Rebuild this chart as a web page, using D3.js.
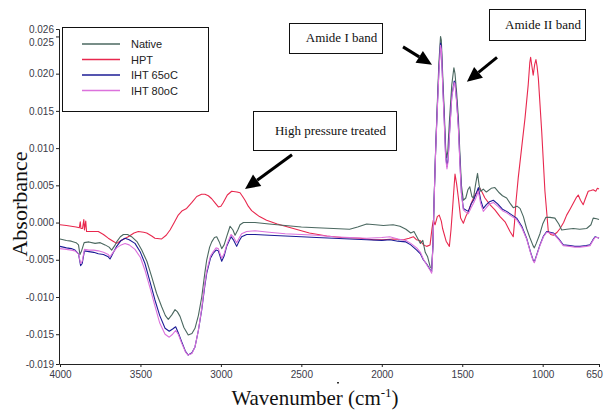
<!DOCTYPE html>
<html>
<head>
<meta charset="utf-8">
<script src="https://cdn.jsdelivr.net/npm/d3@7"></script>
<style>
  body { margin: 0; background: #fff; }
  svg { display: block; }
  .tick text { font-family: "Liberation Sans", Arial, sans-serif; font-size: 10px; fill: #3a3a48; }
</style>
</head>
<body>
<svg id="chart" width="606" height="410"></svg>
<script>
// spectra: [wavenumber, absorbance]
const nativeData = [[4000,-0.0022],[3960,-0.0024],[3930,-0.0025],[3900,-0.0027],[3885,-0.0030],[3876,-0.0043],[3866,-0.0038],[3850,-0.0027],[3820,-0.0026],[3782,-0.0028],[3750,-0.0027],[3720,-0.0030],[3695,-0.0033],[3679,-0.0037],[3660,-0.0031],[3648,-0.0026],[3625,-0.0019],[3606,-0.0016],[3580,-0.0016],[3555,-0.0019],[3520,-0.0026],[3492,-0.0037],[3460,-0.0052],[3430,-0.0073],[3400,-0.0095],[3368,-0.0113],[3345,-0.0125],[3327,-0.0130],[3305,-0.0124],[3285,-0.0117],[3270,-0.0120],[3254,-0.0126],[3230,-0.0141],[3203,-0.0151],[3180,-0.0149],[3161,-0.0142],[3140,-0.0125],[3119,-0.0100],[3100,-0.0068],[3088,-0.0050],[3070,-0.0033],[3057,-0.0026],[3040,-0.0020],[3026,-0.0019],[3010,-0.0026],[2995,-0.0035],[2980,-0.0030],[2964,-0.0019],[2943,-0.0005],[2925,-0.0010],[2912,-0.0017],[2895,-0.0010],[2881,-0.0003],[2860,0.0000],[2840,0.0000],[2788,0.0000],[2700,-0.0002],[2600,-0.0004],[2500,-0.0006],[2405,-0.0007],[2300,-0.0008],[2200,-0.0009],[2150,-0.0006],[2094,-0.0002],[2040,-0.0003],[1990,-0.0004],[1930,-0.0003],[1887,-0.0005],[1850,-0.0009],[1820,-0.0014],[1800,-0.0012],[1780,-0.0020],[1760,-0.0028],[1745,-0.0024],[1730,-0.0040],[1715,-0.0046],[1700,-0.0059],[1690,-0.0062],[1682,-0.0030],[1675,0.0030],[1665,0.0100],[1655,0.0160],[1645,0.0215],[1635,0.0250],[1630,0.0245],[1620,0.0190],[1612,0.0150],[1603,0.0100],[1597,0.0087],[1590,0.0095],[1580,0.0135],[1565,0.0185],[1552,0.0208],[1545,0.0200],[1535,0.0175],[1524,0.0140],[1515,0.0095],[1505,0.0050],[1493,0.0030],[1478,0.0033],[1465,0.0044],[1453,0.0048],[1440,0.0035],[1430,0.0033],[1418,0.0050],[1405,0.0066],[1395,0.0050],[1385,0.0042],[1369,0.0045],[1350,0.0041],[1320,0.0046],[1297,0.0047],[1270,0.0040],[1250,0.0036],[1224,0.0033],[1200,0.0025],[1183,0.0020],[1160,0.0022],[1141,0.0019],[1120,0.0008],[1100,-0.0008],[1080,-0.0020],[1060,-0.0031],[1052,-0.0034],[1040,-0.0028],[1017,-0.0015],[1000,-0.0002],[980,0.0007],[955,0.0007],[924,0.0006],[900,-0.0002],[882,-0.0010],[850,-0.0009],[810,-0.0008],[770,-0.0009],[727,-0.0008],[700,-0.0003],[686,0.0006],[665,0.0005],[650,0.0004]];

const hptData = [[4000,-0.0003],[3960,-0.0004],[3930,-0.0005],[3900,-0.0006],[3880,-0.0007],[3874,0.0001],[3870,-0.0008],[3860,-0.0008],[3852,0.0004],[3848,-0.0010],[3840,0.0002],[3835,-0.0012],[3800,-0.0012],[3762,-0.0012],[3730,-0.0016],[3700,-0.0021],[3670,-0.0025],[3648,-0.0028],[3620,-0.0024],[3576,-0.0019],[3540,-0.0014],[3513,-0.0012],[3480,-0.0013],[3461,-0.0014],[3430,-0.0018],[3410,-0.0021],[3368,-0.0022],[3340,-0.0017],[3316,-0.0010],[3290,0.0000],[3265,0.0010],[3240,0.0016],[3213,0.0019],[3180,0.0027],[3150,0.0035],[3120,0.0038],[3099,0.0038],[3078,0.0036],[3057,0.0032],[3035,0.0026],[3016,0.0021],[3000,0.0022],[2985,0.0027],[2960,0.0037],[2933,0.0042],[2900,0.0041],[2881,0.0040],[2865,0.0035],[2850,0.0030],[2830,0.0022],[2809,0.0016],[2760,0.0008],[2716,0.0003],[2650,-0.0002],[2550,-0.0008],[2450,-0.0014],[2342,-0.0018],[2250,-0.0020],[2135,-0.0021],[2050,-0.0023],[1991,-0.0023],[1930,-0.0022],[1866,-0.0023],[1830,-0.0021],[1804,-0.0019],[1785,-0.0023],[1763,-0.0024],[1740,-0.0030],[1721,-0.0032],[1700,-0.0030],[1688,-0.0008],[1680,0.0003],[1669,-0.0003],[1655,0.0008],[1643,0.0010],[1630,0.0002],[1622,-0.0008],[1600,-0.0025],[1580,-0.0032],[1570,-0.0010],[1560,0.0019],[1550,0.0050],[1545,0.0065],[1535,0.0052],[1524,0.0033],[1510,0.0006],[1493,-0.0001],[1478,0.0008],[1462,0.0015],[1440,0.0028],[1421,0.0037],[1400,0.0044],[1390,0.0046],[1375,0.0040],[1359,0.0033],[1328,0.0024],[1297,0.0017],[1265,0.0008],[1234,0.0001],[1203,-0.0012],[1183,-0.0019],[1175,0.0000],[1166,0.0028],[1152,0.0060],[1131,0.0100],[1110,0.0140],[1090,0.0185],[1080,0.0215],[1075,0.0222],[1067,0.0210],[1059,0.0198],[1050,0.0212],[1042,0.0219],[1035,0.0210],[1027,0.0194],[1006,0.0122],[986,0.0042],[965,-0.0012],[950,-0.0016],[934,-0.0017],[910,-0.0013],[892,-0.0008],[870,0.0000],[851,0.0010],[830,0.0018],[810,0.0026],[790,0.0034],[779,0.0037],[765,0.0030],[748,0.0024],[735,0.0032],[717,0.0042],[700,0.0043],[686,0.0044],[670,0.0042],[660,0.0046],[650,0.0045]];

const iht65Data = [[4000,-0.0032],[3960,-0.0034],[3930,-0.0035],[3907,-0.0037],[3885,-0.0042],[3872,-0.0058],[3862,-0.0055],[3848,-0.0038],[3820,-0.0039],[3790,-0.0040],[3762,-0.0042],[3730,-0.0043],[3700,-0.0046],[3689,-0.0049],[3670,-0.0041],[3648,-0.0032],[3620,-0.0024],[3596,-0.0021],[3570,-0.0023],[3534,-0.0028],[3500,-0.0040],[3472,-0.0055],[3440,-0.0080],[3410,-0.0104],[3380,-0.0125],[3347,-0.0142],[3321,-0.0146],[3300,-0.0143],[3281,-0.0140],[3265,-0.0148],[3244,-0.0160],[3220,-0.0173],[3203,-0.0178],[3180,-0.0175],[3161,-0.0167],[3140,-0.0145],[3119,-0.0117],[3100,-0.0085],[3088,-0.0068],[3065,-0.0048],[3047,-0.0041],[3030,-0.0037],[3016,-0.0038],[2995,-0.0052],[2980,-0.0045],[2964,-0.0032],[2937,-0.0019],[2920,-0.0024],[2902,-0.0032],[2885,-0.0024],[2871,-0.0019],[2840,-0.0016],[2788,-0.0016],[2700,-0.0017],[2600,-0.0018],[2500,-0.0019],[2405,-0.0020],[2300,-0.0021],[2200,-0.0022],[2094,-0.0023],[2000,-0.0024],[1950,-0.0023],[1900,-0.0025],[1850,-0.0026],[1820,-0.0030],[1783,-0.0037],[1760,-0.0042],[1742,-0.0050],[1720,-0.0056],[1700,-0.0063],[1690,-0.0066],[1682,-0.0030],[1675,0.0030],[1665,0.0100],[1655,0.0155],[1645,0.0205],[1635,0.0241],[1630,0.0236],[1620,0.0180],[1612,0.0140],[1603,0.0090],[1595,0.0075],[1588,0.0085],[1578,0.0125],[1565,0.0170],[1550,0.0190],[1545,0.0188],[1535,0.0165],[1524,0.0130],[1515,0.0085],[1505,0.0040],[1493,0.0019],[1478,0.0017],[1462,0.0015],[1445,0.0025],[1430,0.0030],[1415,0.0038],[1400,0.0047],[1385,0.0030],[1369,0.0019],[1350,0.0024],[1330,0.0028],[1307,0.0030],[1280,0.0025],[1250,0.0018],[1224,0.0015],[1190,0.0010],[1162,0.0006],[1130,-0.0005],[1100,-0.0021],[1075,-0.0040],[1060,-0.0050],[1052,-0.0053],[1040,-0.0045],[1017,-0.0030],[995,-0.0018],[975,-0.0012],[955,-0.0013],[934,-0.0014],[900,-0.0022],[872,-0.0030],[830,-0.0031],[800,-0.0032],[768,-0.0032],[730,-0.0031],[706,-0.0030],[690,-0.0024],[675,-0.0019],[660,-0.0020],[650,-0.0021]];

const iht80Data = [[4000,-0.0035],[3960,-0.0036],[3930,-0.0037],[3907,-0.0038],[3885,-0.0042],[3872,-0.0055],[3862,-0.0052],[3848,-0.0036],[3820,-0.0037],[3790,-0.0037],[3762,-0.0038],[3730,-0.0040],[3700,-0.0043],[3689,-0.0046],[3670,-0.0040],[3648,-0.0034],[3620,-0.0030],[3596,-0.0028],[3570,-0.0030],[3534,-0.0036],[3500,-0.0047],[3472,-0.0064],[3440,-0.0088],[3410,-0.0112],[3380,-0.0135],[3347,-0.0150],[3321,-0.0154],[3300,-0.0150],[3281,-0.0145],[3265,-0.0150],[3244,-0.0162],[3220,-0.0174],[3203,-0.0178],[3180,-0.0176],[3161,-0.0167],[3140,-0.0145],[3119,-0.0115],[3100,-0.0082],[3088,-0.0065],[3065,-0.0045],[3047,-0.0039],[3030,-0.0034],[3016,-0.0035],[2995,-0.0048],[2980,-0.0042],[2964,-0.0030],[2937,-0.0016],[2920,-0.0020],[2902,-0.0027],[2885,-0.0020],[2871,-0.0015],[2840,-0.0012],[2788,-0.0011],[2700,-0.0013],[2600,-0.0015],[2500,-0.0016],[2405,-0.0017],[2300,-0.0019],[2200,-0.0020],[2094,-0.0021],[2000,-0.0020],[1950,-0.0019],[1900,-0.0022],[1850,-0.0024],[1820,-0.0028],[1783,-0.0034],[1760,-0.0040],[1742,-0.0049],[1720,-0.0057],[1700,-0.0064],[1690,-0.0068],[1682,-0.0032],[1675,0.0028],[1665,0.0098],[1655,0.0152],[1645,0.0202],[1635,0.0238],[1630,0.0233],[1620,0.0176],[1612,0.0136],[1603,0.0086],[1595,0.0072],[1588,0.0082],[1578,0.0122],[1565,0.0168],[1550,0.0188],[1545,0.0186],[1535,0.0162],[1524,0.0127],[1515,0.0082],[1505,0.0038],[1493,0.0017],[1478,0.0014],[1462,0.0012],[1445,0.0020],[1430,0.0026],[1415,0.0033],[1400,0.0042],[1385,0.0025],[1369,0.0015],[1350,0.0020],[1330,0.0025],[1307,0.0027],[1280,0.0022],[1250,0.0016],[1224,0.0013],[1190,0.0008],[1162,0.0004],[1130,-0.0007],[1100,-0.0022],[1075,-0.0041],[1060,-0.0051],[1052,-0.0054],[1040,-0.0046],[1017,-0.0031],[995,-0.0019],[975,-0.0013],[955,-0.0014],[934,-0.0015],[900,-0.0023],[872,-0.0031],[830,-0.0032],[800,-0.0033],[768,-0.0033],[730,-0.0032],[706,-0.0031],[690,-0.0025],[675,-0.0020],[660,-0.0020],[650,-0.0021]];

const seriesNames = ['Native', 'HPT', 'IHT 65oC', 'IHT 80oC'];
const seriesColors = ['#4b6860', '#e8284e', '#1c1c96', '#dc72dc'];
const xTicks = [4000, 3500, 3000, 2500, 2000, 1500, 1000, 650];
const yTicks = [0.026, 0.025, 0.020, 0.015, 0.010, 0.005, 0.000, -0.005, -0.010, -0.015, -0.019];

const svg = d3.select('#chart');

const x = d3.scaleLinear().domain([4000, 650]).range([60, 599]);
const y = d3.scaleLinear().domain([-0.019, 0.026]).range([364, 29]);

const fmt = d3.format('.3f');

// axes
const yAxis = svg.append('g')
    .attr('transform', 'translate(59,0)')
    .call(d3.axisLeft(y).tickValues(yTicks).tickSize(3).tickPadding(2)
        .tickFormat(d => fmt(d).replace('\u2212', '-')));
yAxis.selectAll('text').filter(d => d === 0.025).attr('dy', '0.95em');

const xAxis = svg.append('g')
    .attr('transform', 'translate(0,364)')
    .call(d3.axisBottom(x).tickValues(xTicks).tickSize(3).tickPadding(4).tickFormat(d => d));
// keep the last label inside the picture
xAxis.selectAll('text').filter(d => d === 650).attr('dx', -5);

svg.selectAll('.domain, .tick line').attr('stroke', '#222');

// curves
const line = d3.line().x(d => x(d[0])).y(d => y(d[1]));
const allSeries = [nativeData, hptData, iht65Data, iht80Data];
const drawOrder = [1, 0, 2, 3];

drawOrder.forEach(i => {
    svg.append('path')
       .datum(allSeries[i])
       .attr('fill', 'none')
       .attr('stroke', seriesColors[i])
       .attr('stroke-width', 1.1)
       .attr('stroke-linejoin', 'round')
       .attr('d', line);
});

// axis titles
svg.append('text')
   .attr('transform', 'translate(27,204) rotate(-90)')
   .attr('text-anchor', 'middle')
   .style('font-family', '"Liberation Serif", "Times New Roman", serif')
   .style('font-size', '22px')
   .attr('fill', '#111')
   .text('Absorbance');

const xTitle = svg.append('text')
   .attr('x', 315)
   .attr('y', 405)
   .attr('text-anchor', 'middle')
   .style('font-family', '"Liberation Serif", "Times New Roman", serif')
   .style('font-size', '21px')
   .attr('fill', '#111');
xTitle.append('tspan').text('Wavenumber (cm');
xTitle.append('tspan').attr('dy', -8).style('font-size', '13px').text('-1');
xTitle.append('tspan').attr('dy', 8).text(')');

svg.append('rect').attr('x', 337).attr('y', 382).attr('width', 2).attr('height', 1.5).attr('fill', '#333');

// legend
const legend = svg.append('g');
legend.append('rect')
      .attr('x', 62.5).attr('y', 27.5).attr('width', 146).attr('height', 84)
      .attr('fill', '#fff').attr('stroke', '#111');
seriesNames.forEach((name, i) => {
    const ly = 44 + i * 15.5;
    legend.append('line')
          .attr('x1', 82).attr('x2', 120).attr('y1', ly).attr('y2', ly)
          .attr('stroke', seriesColors[i]).attr('stroke-width', 1.3);
    legend.append('text')
          .attr('x', 131).attr('y', ly + 4)
          .style('font-family', '"Liberation Sans", Arial, sans-serif')
          .style('font-size', '11px')
          .attr('fill', '#222')
          .text(name);
});

// annotations
const boxes = [
    { label: 'Amide I band', x: 289, y: 23, w: 93, h: 30 },
    { label: 'Amide II band', x: 489, y: 9, w: 96, h: 31 },
    { label: 'High pressure treated', x: 253, y: 111, w: 143, h: 39 }
];
boxes.forEach(b => {
    svg.append('rect')
       .attr('x', b.x + 0.5).attr('y', b.y + 0.5).attr('width', b.w).attr('height', b.h)
       .attr('fill', '#fff').attr('stroke', '#111');
    svg.append('text')
       .attr('x', b.x + b.w / 2 + 6).attr('y', b.y + b.h / 2 + 4)
       .attr('text-anchor', 'middle')
       .style('font-family', '"Liberation Serif", "Times New Roman", serif')
       .style('font-size', '13px')
       .attr('fill', '#111')
       .text(b.label);
});

// arrows in data coordinates: [fromWn, fromAbs, tipWn, tipAbs]
const arrows = [
    [2558, 0.0091, 2850, 0.0045],
    [1868, 0.0236, 1688, 0.0212],
    [1284, 0.0222, 1471, 0.0189]
];
arrows.forEach(a => {
    const x1 = x(a[0]), y1 = y(a[1]), x2 = x(a[2]), y2 = y(a[3]);
    const ang = Math.atan2(y2 - y1, x2 - x1);
    const headLen = 15, headW = 7;
    const bx = x2 - headLen * Math.cos(ang), by = y2 - headLen * Math.sin(ang);
    svg.append('line')
       .attr('x1', x1).attr('y1', y1).attr('x2', bx).attr('y2', by)
       .attr('stroke', '#000').attr('stroke-width', 3);
    const px = -Math.sin(ang), py = Math.cos(ang);
    svg.append('polygon')
       .attr('points', [[x2, y2], [bx + px * headW, by + py * headW], [bx - px * headW, by - py * headW]].map(p => p.join(',')).join(' '))
       .attr('fill', '#000');
});
</script>
</body>
</html>
